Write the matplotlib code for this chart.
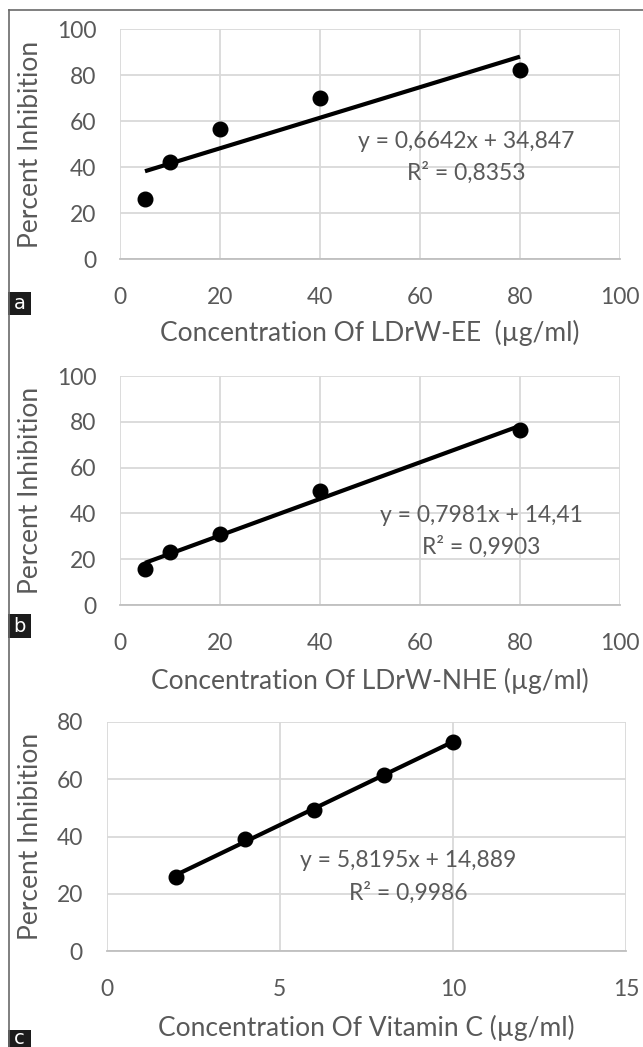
import matplotlib
matplotlib.use("Agg")
import matplotlib.pyplot as plt
import numpy as np
from matplotlib.patches import Rectangle
from matplotlib.lines import Line2D

plt.rcParams['font.family'] = ['Lato', 'DejaVu Sans']

# ---- data ----
x_a = [5, 10, 20, 40, 80]
y_a = [26.0, 42.0, 56.4, 70.1, 82.0]
slope_a, intercept_a = 0.6642, 34.847
eq_a = ["y = 0,6642x + 34,847", "R² = 0,8353"]
xlabel_a = "Concentration Of LDrW-EE  (µg/ml)"

x_b = [5, 10, 20, 40, 80]
y_b = [15.6, 23.0, 31.0, 49.9, 76.4]
slope_b, intercept_b = 0.7981, 14.41
eq_b = ["y = 0,7981x + 14,41", "R² = 0,9903"]
xlabel_b = "Concentration Of LDrW-NHE (µg/ml)"

x_c = [2, 4, 6, 8, 10]
y_c = [25.8, 39.2, 49.3, 61.4, 72.9]
slope_c, intercept_c = 5.8195, 14.889
eq_c = ["y = 5,8195x + 14,889", "R² = 0,9986"]
xlabel_c = "Concentration Of Vitamin C (µg/ml)"

ylabel = "Percent Inhibition"
xticks_ab = [0, 20, 40, 60, 80, 100]
yticks_ab = [0, 20, 40, 60, 80, 100]
xticks_c = [0, 5, 10, 15]
yticks_c = [0, 20, 40, 60, 80]
panel_letters = ["a", "b", "c"]

W, H = 643, 1047
fig = plt.figure(figsize=(W / 100, H / 100), dpi=100)

TXT = '#595959'
GRID = '#d9d9d9'


def px_axes(l, t, r, b):
    return fig.add_axes([l / W, 1 - b / H, (r - l) / W, (b - t) / H])


def style(ax, x, y, slope, intercept, eq, xlabel, xticks, yticks, eqpos, ylab_x, xlab_y):
    ax.set_xlim(xticks[0], xticks[-1])
    ax.set_ylim(yticks[0], yticks[-1])
    ax.set_xticks(xticks)
    ax.set_yticks(yticks)
    ax.grid(True, color=GRID, linewidth=1.3, zorder=0)
    for s in ax.spines.values():
        s.set_visible(False)
    ax.spines['bottom'].set_visible(True)
    ax.spines['bottom'].set_color('#bfbfbf')
    ax.spines['bottom'].set_linewidth(1.3)
    ax.tick_params(length=0, labelsize=16.5, colors=TXT, pad=0)
    ax.tick_params(axis='x', pad=20)
    ax.tick_params(axis='y', pad=17)
    xs = np.array([min(x), max(x)])
    ax.plot(xs, slope * xs + intercept, color='black', lw=3.0, zorder=3, solid_capstyle='butt')
    ax.plot(x, y, 'o', color='black', ms=10.5, zorder=4)
    ax.text(eqpos[0], eqpos[1], eq[0], transform=ax.transAxes, ha='center', va='center',
            fontsize=16.5, color=TXT, zorder=5)
    ax.text(eqpos[0], eqpos[2], eq[1], transform=ax.transAxes, ha='center', va='center',
            fontsize=16.5, color=TXT, zorder=5)
    ax.set_xlabel(xlabel, fontsize=19, color=TXT)
    ax.xaxis.set_label_coords(0.5, xlab_y)
    ax.xaxis.label.set_va('center')
    ax.set_ylabel(ylabel, fontsize=19, color=TXT)
    ax.yaxis.set_label_coords(ylab_x, 0.5)
    ax.yaxis.label.set_va('center')


ax_a = px_axes(120, 29, 620, 259)
style(ax_a, x_a, y_a, slope_a, intercept_a, eq_a, xlabel_a, xticks_ab, yticks_ab,
      (0.692, 0.509, 0.374), -0.178, -0.32)
ax_b = px_axes(120, 376, 620, 605)
style(ax_b, x_b, y_b, slope_b, intercept_b, eq_b, xlabel_b, xticks_ab, yticks_ab,
      (0.723, 0.393, 0.255), -0.178, -0.33)
ax_c = px_axes(106.5, 722, 626, 951)
style(ax_c, x_c, y_c, slope_c, intercept_c, eq_c, xlabel_c, xticks_c, yticks_c,
      (0.581, 0.397, 0.253), -0.146, -0.336)

# figure frame (left and top)
fig.add_artist(Line2D([8.5 / W, 8.5 / W], [0, 1 - 10 / H], transform=fig.transFigure,
                      color='#6a6a6a', lw=1.2))
fig.add_artist(Line2D([8.5 / W, 1], [1 - 10 / H, 1 - 10 / H], transform=fig.transFigure,
                      color='#6a6a6a', lw=1.2))

# panel letter boxes
for letter, (top, bot) in zip(panel_letters, [(292, 315), (614, 638), (1030, 1047)]):
    fig.add_artist(Rectangle((8 / W, 1 - bot / H), 23 / W, (bot - top) / H,
                             transform=fig.transFigure, facecolor='#1c1c1c', edgecolor='none'))
    fig.text(19.5 / W, 1 - (top + bot) / 2 / H, letter, color='white', fontsize=14,
             ha='center', va='center', family=['DejaVu Sans'])

fig.savefig('out.png', dpi=100)
